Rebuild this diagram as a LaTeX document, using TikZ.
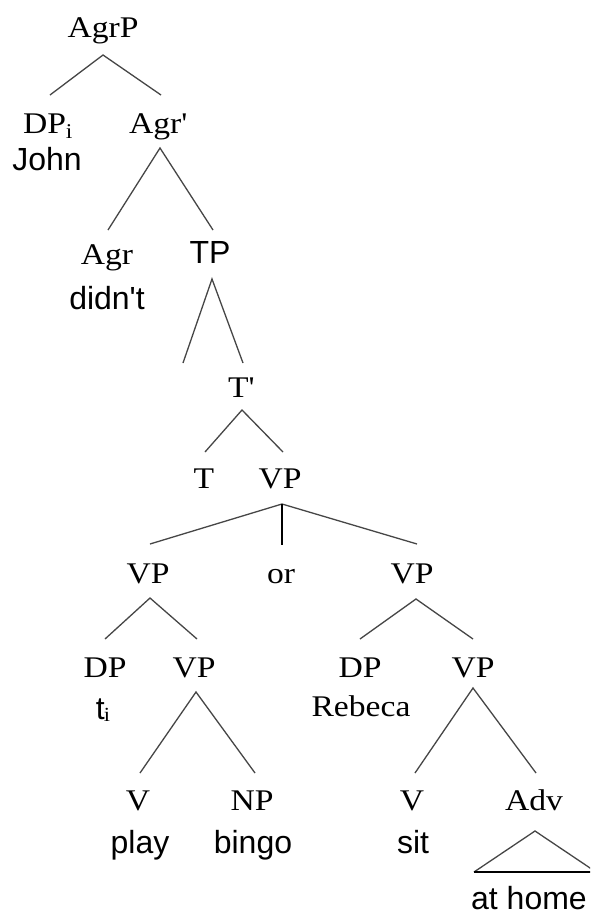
\documentclass[tikz,border=0pt]{standalone}
\usepackage{fontspec}
\setmainfont{Liberation Serif}[FakeStretch=1.12]
\newfontfamily\wordfont{Liberation Sans}
\usetikzlibrary{calc}
\definecolor{linegray}{RGB}{70,70,70}
\tikzset{
  cat/.style={anchor=base, inner sep=0pt, font=\fontsize{30}{35}\selectfont},
  word/.style={anchor=base, inner sep=0pt, font=\wordfont\fontsize{32}{38}\selectfont},
  branch/.style={draw=linegray, line width=1.3pt},
  strong/.style={draw=black, line width=1.3pt},
}

\begin{document}
\begin{tikzpicture}[x=1pt,y=-1pt]
\clip (0,0) rectangle (590,916);
\fill[white] (0,0) rectangle (590,916);

% upper spine
\node[cat]  (AgrP)  at (103,37)  {AgrP};
\node[cat]  (DPi)   at (48,133)  {DP\textsubscript{i}};
\node[word] (John)  at (47,170)  {John};
\node[cat]  (Agrb)  at (158,133) {Agr\textquotesingle};
\node[cat]  (Agr)   at (107,264) {Agr};
\node[word] (didnt) at (107,309) {didn't};
\node[word] (TP)    at (210,263) {TP};
\coordinate (TPspec) at (183,363);
\node[cat]  (Tb)    at (241,397) {T\textquotesingle};
\node[cat]  (T)     at (204,488) {T};
\node[cat]  (VP)    at (280,488) {VP};

% coordination
\node[cat]  (VPa)   at (148,583) {VP};
\node[cat]  (or)    at (281,583) {or};
\node[cat]  (VPb)   at (412,583) {VP};

% first conjunct
\node[cat]  (DPa)   at (105,677) {DP};
\node[word] (ti)    at (103,719) {t\kern-1pt\raisebox{-2pt}{\rmfamily\fontsize{20}{24}\selectfont i}};
\node[cat]  (VPa2)  at (194,677) {VP};
\node[cat]  (Va)    at (138,810) {V};
\node[word] (play)  at (140,853) {play};
\node[cat]  (NP)    at (252,810) {NP};
\node[word] (bingo) at (253,853) {bingo};

% second conjunct
\node[cat]  (DPb)   at (360,677) {DP};
\node[cat]  (Rebeca) at (361,716) {Rebeca};
\node[cat]  (VPb2)  at (473,677) {VP};
\node[cat]  (Vb)    at (412,810) {V};
\node[word] (sit)   at (413,853) {sit};
\node[cat]  (Adv)   at (534,810) {Adv};
\node[word] (athome) at (529,909) {at home};

% branches
\draw[branch] ($(DPi.base)+(2,-38)$) -- ($(AgrP.base)+(0,18)$) -- ($(Agrb.base)+(3,-38)$);
\draw[branch] ($(Agr.base)+(1,-34)$) -- ($(Agrb.base)+(2,15)$) -- ($(TP.base)+(3,-33)$);
\draw[branch] (TPspec) -- ($(TP.base)+(2,16)$) -- ($(Tb.base)+(2,-34)$);
\draw[branch] ($(T.base)+(1,-36)$) -- ($(Tb.base)+(1,13)$) -- ($(VP.base)+(3,-36)$);
\draw[branch] ($(VPa.base)+(2,-39)$) -- ($(VP.base)+(2,16)$) -- ($(VPb.base)+(5,-39)$);
\draw[strong] ($(VP.base)+(2,16)$) -- ($(or.base)+(1,-38)$);
\draw[branch] ($(DPa.base)+(0,-38)$) -- ($(VPa.base)+(2,15)$) -- ($(VPa2.base)+(3,-38)$);
\draw[branch] ($(Va.base)+(2,-37)$) -- ($(VPa2.base)+(2,15)$) -- ($(NP.base)+(3,-37)$);
\draw[branch] ($(DPb.base)+(0,-38)$) -- ($(VPb.base)+(4,16)$) -- ($(VPb2.base)+(0,-38)$);
\draw[branch] ($(Vb.base)+(3,-37)$) -- ($(VPb2.base)+(0,11)$) -- ($(Adv.base)+(2,-37)$);

% roof over the adverbial phrase
\coordinate (roofL) at (474,872);
\coordinate (roofR) at (596,872);
\draw[branch] (roofL) -- ($(Adv.base)+(1,21)$) -- (roofR);
\draw[strong] (roofL) -- (roofR);
\end{tikzpicture}
\end{document}
